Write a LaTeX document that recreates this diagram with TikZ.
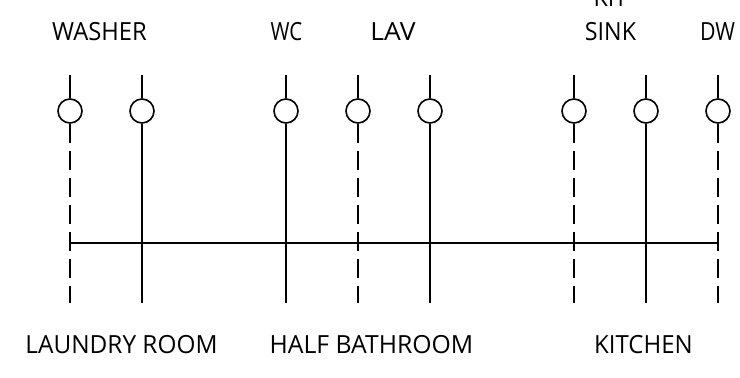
\documentclass[tikz,border=0pt]{standalone}
\usepackage{fontspec}
\setmainfont{Open Sans}
\tikzset{
  x=1pt,y=-1pt,
  pipe/.style={line width=1.8pt,black},
  dashpipe/.style={pipe,dash pattern=on 19pt off 8pt},
  fixture/.style={circle,draw=black,line width=1.6pt,minimum size=24pt,inner sep=0pt},
  lab/.style={font=\fontsize{25}{25}\selectfont,inner sep=0pt,anchor=base,text=black,transform shape}
}
\begin{document}
\begin{tikzpicture}
\useasboundingbox (0,0) rectangle (740,378);
\foreach \n/\x in {a/70,b/142,c/286,d/358,e/430,f/574,g/646,h/718}{
  \node[fixture] (c\n) at (\x,111) {};
  \coordinate (t\n) at (\x,75);
  \coordinate (m\n) at (\x,243);
  \coordinate (b\n) at (\x,303);
  \draw[pipe] (t\n) -- (c\n.north);
}
\foreach \n in {b,c,e,g}{\draw[pipe] (c\n.south) -- (b\n);}
\foreach \n in {a,d,f,h}{\draw[dashpipe] (c\n.south) -- (b\n);}
\draw[pipe] (ma) -- (mh);
\node[lab,xscale=.95] (l1) at (99.5,40) {WASHER};
\node[lab,xscale=.82] (l2) at (286.5,40) {WC};
\node[lab,xscale=1.06] (l3) at (393,40) {LAV};
\node[lab,xscale=.93] (l4) at (610.5,6) {KIT};
\node[lab,xscale=.93] (l5) at (610.5,40) {SINK};
\node[lab,xscale=.85] (l6) at (717.5,40) {DW};
\node[lab,xscale=.975] (l7) at (121.5,353) {LAUNDRY ROOM};
\node[lab,xscale=.99] (l8) at (371.5,353) {HALF BATHROOM};
\node[lab,xscale=.96] (l9) at (643.5,353) {KITCHEN};
\end{tikzpicture}
\end{document}
